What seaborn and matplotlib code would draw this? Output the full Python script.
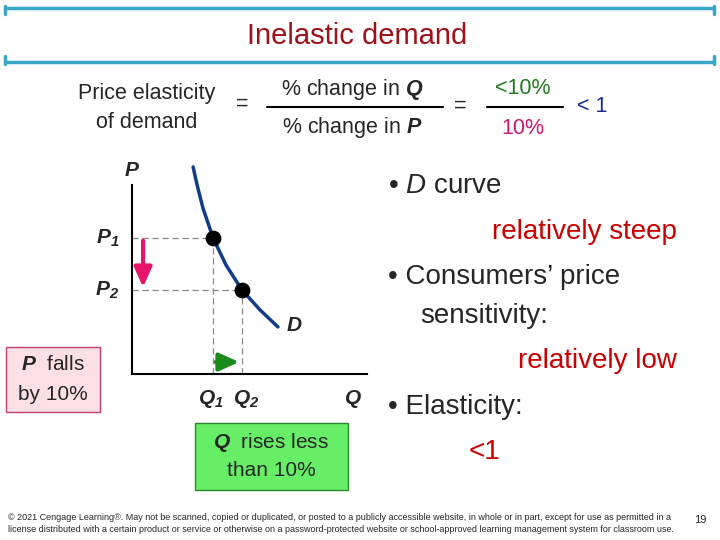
import numpy as np
import pandas as pd
import matplotlib
matplotlib.use("Agg")
import matplotlib.pyplot as plt
import seaborn as sns

# demand curve (Q, P)
curve_q = [2.60, 2.77, 3.02, 3.45, 4.00, 4.68, 5.45, 6.21]
curve_p = [9.86, 9.00, 7.90, 6.48, 5.19, 4.00, 3.05, 2.24]
point_q = [3.45, 4.68]
point_p = [6.48, 4.00]

title = "Inelastic demand"

sns.set_theme(style="white")
plt.rcParams["font.family"] = ["Liberation Sans", "DejaVu Sans"]
plt.rcParams["mathtext.fontset"] = "custom"
plt.rcParams["mathtext.rm"] = "Liberation Sans"
plt.rcParams["mathtext.it"] = "Liberation Sans:italic"
plt.rcParams["mathtext.bf"] = "Liberation Sans:bold:italic"

fig = plt.figure(figsize=(7.2, 5.4), dpi=100)

# overlay axes in pixel coordinates for the slide decoration
bg = fig.add_axes((0, 0, 1, 1))
bg.set_xlim(0, 720)
bg.set_ylim(540, 0)
bg.axis("off")

cyan = "#3aa6c8"
for y in (8, 62):
    bg.plot([5, 714], [y, y], color=cyan, lw=2.5)
for x in (5, 714):
    bg.plot([x, x], [6, 14], color=cyan, lw=2.5)
    bg.plot([x, x], [56, 64], color=cyan, lw=2.5)
bg.text(357, 36, title, color="#a01018", fontsize=21, ha="center", va="center")

# formula
fs_f = 15.5
bg.text(147, 94, "Price elasticity", fontsize=fs_f, ha="center", va="center")
bg.text(147, 123, "of demand", fontsize=fs_f, ha="center", va="center")
bg.text(242, 104, "=", fontsize=fs_f, ha="center", va="center")
bg.plot([267, 443], [107, 107], color="black", lw=1.5)
bg.text(352, 89, "% change in $\\mathbf{Q}$", fontsize=fs_f, ha="center", va="center")
bg.text(352, 128, "% change in $\\mathbf{P}$", fontsize=fs_f, ha="center", va="center")
bg.text(460, 106, "=", fontsize=fs_f, ha="center", va="center")
bg.plot([487, 563], [107, 107], color="black", lw=1.5)
bg.text(523, 89, "<10%", fontsize=fs_f, color="#1e7a1e", ha="center", va="center")
bg.text(523, 128, "10%", fontsize=fs_f, color="#d01872", ha="center", va="center")
bg.text(592, 106, "< 1", fontsize=fs_f, color="#1a2a9a", ha="center", va="center")

# right-side bullets
fs = 20
bg.text(388, 186, "• $\\mathit{D}$ curve", fontsize=fs, va="center")
bg.text(677, 232, "relatively steep", fontsize=fs, ha="right", va="center", color="#cc0000")
bg.text(388, 277, "• Consumers\u2019 price", fontsize=fs, va="center")
bg.text(420, 316, "sensitivity:", fontsize=fs, va="center")
bg.text(677, 361, "relatively low", fontsize=fs, ha="right", va="center", color="#cc0000")
bg.text(388, 407, "• Elasticity:", fontsize=fs, va="center")
bg.text(484, 452, "<1", fontsize=fs, ha="center", va="center", color="#cc0000")

# note boxes
bg.add_patch(plt.Rectangle((6, 347), 94, 65, facecolor="#fde0e6", edgecolor="#c04070", lw=1))
bg.text(53, 365, "$\\mathbf{P}$  falls", fontsize=15, ha="center", va="center")
bg.text(53, 395, "by 10%", fontsize=15, ha="center", va="center")
bg.add_patch(plt.Rectangle((195, 423), 153, 67, facecolor="#66ee66", edgecolor="#2a8a2a", lw=1))
bg.text(271, 442, "$\\mathbf{Q}$  rises less", fontsize=15, ha="center", va="center")
bg.text(271, 470, "than 10%", fontsize=15, ha="center", va="center")

# footer
bg.text(8, 517, "\u00a9 2021 Cengage Learning\u00ae. May not be scanned, copied or duplicated, or posted to a publicly accessible website, in whole or in part, except for use as permitted in a",
        fontsize=6.5, va="center")
bg.text(8, 530, "license distributed with a certain product or service or otherwise on a password-protected website or school-approved learning management system for classroom use.",
        fontsize=6.5, va="center")
bg.text(700, 520, "19", fontsize=8, ha="center", va="center")

# the demand diagram (x: px 132-367, y: px 374-164)
ax = fig.add_axes((132 / 720, 1 - 374 / 540, 235 / 720, 210 / 540))
ax.patch.set_alpha(0)
ax.set_xlim(0, 10)
ax.set_ylim(0, 10)
for s in ("top", "right"):
    ax.spines[s].set_visible(False)
ax.spines["left"].set_bounds(0, 9.0)
for s in ("left", "bottom"):
    ax.spines[s].set_color("black")
    ax.spines[s].set_linewidth(1.5)
ax.set_xticks([])
ax.set_yticks([])

df = pd.DataFrame({"Q": curve_q, "P": curve_p})
sns.lineplot(data=df, x="Q", y="P", ax=ax, sort=False, color="#123d8a", lw=2.5, zorder=2)
for q, p in zip(point_q, point_p):
    ax.plot([0, q], [p, p], color="#888888", ls=(0, (5, 3)), lw=0.9, zorder=1)
    ax.plot([q, q], [0, p], color="#888888", ls=(0, (5, 3)), lw=0.9, zorder=1)
sns.scatterplot(x=point_q, y=point_p, ax=ax, color="black", s=110, zorder=3, edgecolor="black")

ax.annotate("", xy=(0.47, point_p[1]), xytext=(0.47, point_p[0]),
            arrowprops=dict(arrowstyle="-|>,head_width=0.45,head_length=1.0", color="#e8146a", lw=3))
ax.annotate("", xy=(point_q[1], 0.57), xytext=(point_q[0], 0.57),
            arrowprops=dict(arrowstyle="-|>,head_width=0.45,head_length=1.0", color="#1a8a1a", lw=3))

tf = dict(fontsize=15, fontweight="bold", fontstyle="italic")
ax.text(0, 9.7, "P", ha="center", va="center", **tf)
ax.text(-0.55, point_p[0], "$\\mathbf{P_1}$", ha="right", va="center", fontsize=15)
ax.text(-0.55, point_p[1], "$\\mathbf{P_2}$", ha="right", va="center", fontsize=15)
ax.text(6.6, 2.3, "D", ha="left", va="center", **tf)
ax.text(point_q[0] - 0.1, -1.2, "$\\mathbf{Q_1}$", ha="center", va="center", fontsize=15)
ax.text(point_q[1] + 0.2, -1.2, "$\\mathbf{Q_2}$", ha="center", va="center", fontsize=15)
ax.text(9.4, -1.15, "Q", ha="center", va="center", **tf)
for t in ax.texts:
    t.set_clip_on(False)
ax.set_xlabel("")
ax.set_ylabel("")
if ax.get_legend():
    ax.get_legend().remove()

fig.savefig("out.png", dpi=100)
